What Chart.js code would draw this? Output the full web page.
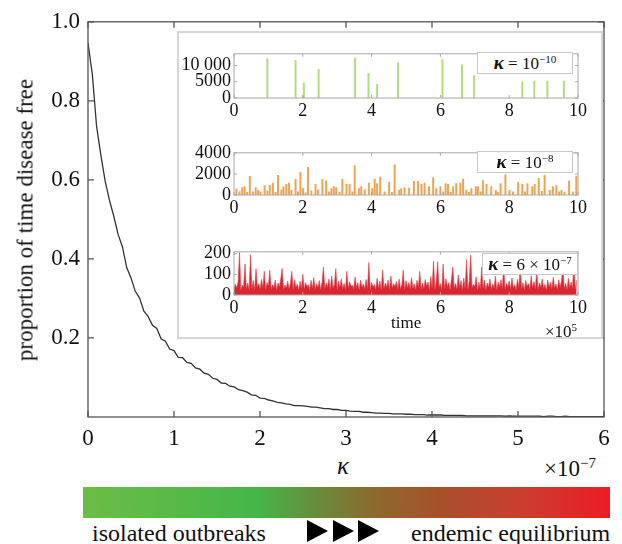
<!DOCTYPE html>
<html>
<head>
<meta charset="utf-8">
<script src="https://cdn.jsdelivr.net/npm/chart.js@4.4.1/dist/chart.umd.min.js"></script>
<style>
body { margin:0; background:#fff; width:622px; height:544px; position:relative; overflow:hidden; font-family:'Liberation Serif', serif; color:#111; }
canvas { position:absolute; }
.t { position:absolute; white-space:nowrap; line-height:1; }
.inset { position:absolute; left:177px; top:31px; width:426px; height:308px; box-sizing:border-box; border:2px solid #d6d6d6; background:#fff; }
.leg { position:absolute; box-sizing:border-box; border:1px solid #c8c8c8; background:#fff; font-size:17px; text-align:center; line-height:20px; }
.leg i { font-weight:bold; font-size:19px; }
sup { font-size:0.65em; vertical-align:0.55em; line-height:0; }
.bar { position:absolute; left:83px; top:487px; width:527px; height:31px;
  background:linear-gradient(to right, #6cbd45 0%, #45b649 33%, #6a8a3c 45%, #8c6a2e 55%, #a8502b 68%, #c8402e 82%, #ed1c24 100%); }
.tri { position:absolute; top:520px; width:0; height:0; border-left:21px solid #000; border-top:11.5px solid transparent; border-bottom:11.5px solid transparent; }
</style>
</head>
<body>
<canvas id="main" width="622" height="450" style="left:0;top:0"></canvas>
<div class="inset"></div>
<canvas id="c1" width="418" height="82" style="left:180px;top:40px"></canvas>
<canvas id="c2" width="418" height="82" style="left:180px;top:139px"></canvas>
<canvas id="c3" width="418" height="82" style="left:180px;top:238px"></canvas>

<div class="leg" style="left:477px;top:52px;width:96px;height:22px"><i>κ</i> = 10<sup>−10</sup></div>
<div class="leg" style="left:477px;top:151px;width:96px;height:22px"><i>κ</i> = 10<sup>−8</sup></div>
<div class="leg" style="left:482px;top:253px;width:96px;height:22px"><i>κ</i> = 6 × 10<sup>−7</sup></div>

<div class="t" style="left:391px;top:314px;font-size:17px">time</div>
<div class="t" style="left:545px;top:323px;font-size:17px">×10<sup>5</sup></div>

<div class="t" style="left:25px;top:220px;font-size:23px;transform:translate(-50%,-50%) rotate(-90deg)">proportion of time disease free</div>
<div class="t" style="left:337px;top:453px;font-size:25px;font-style:italic">κ</div>
<div class="t" style="left:544px;top:457px;font-size:23px">×10<sup>−7</sup></div>

<div class="bar"></div>
<div class="t" style="left:92px;top:521px;font-size:24px">isolated outbreaks</div>
<div class="tri" style="left:307px"></div>
<div class="tri" style="left:333px"></div>
<div class="tri" style="left:358px"></div>
<div class="t" style="left:411px;top:521px;font-size:24px">endemic equilibrium</div>

<script>
// main curve: proportion of time disease free vs kappa (x1e-7), step 0.05
const kappaStep = 0.05;
const freeProp = [
  0.946, 0.868, 0.735, 0.662, 0.596, 0.548, 0.508, 0.462, 0.431, 0.378,
  0.352, 0.318, 0.301, 0.268, 0.254, 0.232, 0.224, 0.198, 0.192, 0.172,
  0.168, 0.151, 0.150, 0.138, 0.136, 0.124, 0.121, 0.111, 0.108, 0.098,
  0.095, 0.086, 0.085, 0.078, 0.076, 0.069, 0.067, 0.063, 0.056, 0.055,
  0.048, 0.047, 0.043, 0.041, 0.037, 0.036, 0.033, 0.032, 0.029, 0.029,
  0.028, 0.027, 0.025, 0.025, 0.023, 0.021, 0.021, 0.019, 0.019, 0.017,
  0.017, 0.015, 0.014, 0.014, 0.012, 0.012, 0.011, 0.010, 0.010, 0.009,
  0.009, 0.008, 0.008, 0.008, 0.007, 0.007, 0.006, 0.006, 0.006, 0.005,
  0.005, 0.005, 0.005, 0.004, 0.004, 0.004, 0.004, 0.004, 0.003, 0.003,
  0.003, 0.003, 0.003, 0.003, 0.003, 0.003, 0.003, 0.002, 0.003, 0.002,
  0.002, 0.002, 0.002, 0.002, 0.002, 0.002, 0.001, 0.002, 0.002, 0.001,
  0.001, 0.002, 0.001, 0.001, 0.001, 0.001, 0.001, 0.001, 0.001, 0.001,
  0.001
];
const mainXTicks = [0, 1, 2, 3, 4, 5, 6];
const mainYTicks = [0.2, 0.4, 0.6, 0.8, 1.0];

// inset 1: kappa = 1e-10, time in units of 1e5
const greenTime = [0.97, 1.79, 2.0, 2.03, 2.46, 3.52, 3.91, 4.16, 4.77, 6.06, 6.63, 6.98, 8.38, 8.73, 9.11, 9.59];
const greenCases = [12100, 11600, 700, 4700, 8800, 12300, 7600, 4200, 10900, 11800, 10200, 6900, 5000, 5200, 5200, 5200];

// inset 2: kappa = 1e-8
const orangeTime = [
  0.07, 0.16, 0.24, 0.31, 0.38, 0.46, 0.55, 0.63, 0.70, 0.77, 0.89, 0.97, 1.04, 1.13, 1.21, 1.28,
  1.38, 1.44, 1.52, 1.60, 1.67, 1.79, 1.86, 1.93, 2.01, 2.08, 2.15, 2.25, 2.37, 2.44, 2.57, 2.68,
  2.76, 2.83, 2.90, 2.97, 3.07, 3.15, 3.27, 3.36, 3.44, 3.51, 3.63, 3.70, 3.80, 3.92, 4.02, 4.09,
  4.16, 4.25, 4.38, 4.51, 4.59, 4.67, 4.80, 4.86, 4.96, 5.09, 5.23, 5.35, 5.45, 5.54, 5.67, 5.79,
  5.88, 6.00, 6.08, 6.15, 6.22, 6.30, 6.37, 6.46, 6.58, 6.66, 6.75, 6.83, 6.90, 7.03, 7.09, 7.17,
  7.24, 7.34, 7.48, 7.61, 7.67, 7.75, 7.89, 8.01, 8.11, 8.26, 8.38, 8.46, 8.53, 8.67, 8.74, 8.86,
  8.95, 9.03, 9.18, 9.27, 9.37, 9.45, 9.52, 9.61, 9.74, 9.85, 9.95
];
const orangeCases = [
  570, 300, 700, 800, 250, 1770, 300, 700, 450, 300, 900, 400, 940, 1140, 250, 1860,
  500, 800, 1000, 1140, 450, 1490, 300, 2140, 600, 200, 2630, 400, 1000, 500, 1490, 1340,
  300, 600, 800, 700, 250, 1490, 1000, 1000, 300, 2770, 600, 800, 500, 1140, 600, 1490,
  1090, 1710, 300, 1200, 250, 2860, 450, 600, 700, 650, 1290, 1290, 1000, 1140, 800, 1660,
  600, 800, 300, 1090, 1000, 250, 800, 1090, 1140, 1510, 450, 250, 600, 800, 800, 300,
  1370, 1000, 800, 450, 250, 1090, 1940, 450, 300, 1200, 1000, 300, 1090, 800, 1000, 1570,
  350, 1860, 450, 800, 900, 300, 450, 250, 1310, 300, 1800
];

// inset 3: kappa = 6e-7, sampled every 0.04 (x1e5)
const redStep = 0.04;
const redCases = [
  28, 52, 35, 64, 205, 24, 47, 40, 150, 30,
  58, 26, 195, 32, 70, 23, 128, 38, 55, 29,
  76, 34, 115, 25, 61, 42, 120, 28, 50, 36,
  72, 24, 58, 39, 80, 128, 27, 48, 33, 68,
  30, 56, 115, 26, 74, 37, 53, 23, 66, 32,
  100, 29, 60, 41, 49, 25, 71, 34, 84, 28,
  55, 38, 70, 24, 63, 135, 31, 58, 40, 77,
  27, 92, 35, 51, 128, 23, 66, 39, 79, 30,
  56, 26, 115, 33, 64, 42, 47, 28, 88, 36,
  60, 24, 72, 38, 53, 29, 75, 32, 157, 25,
  61, 40, 50, 27, 81, 35, 68, 23, 120, 31,
  58, 37, 73, 26, 92, 34, 55, 41, 65, 28,
  77, 30, 51, 120, 24, 70, 36, 60, 29, 84,
  33, 53, 25, 71, 39, 115, 27, 58, 32, 75,
  42, 63, 23, 89, 35, 164, 28, 67, 161, 38,
  55, 26, 150, 31, 79, 40, 60, 24, 73, 135,
  34, 56, 29, 97, 37, 70, 25, 82, 32, 171,
  27, 65, 193, 36, 51, 41, 88, 23, 62, 30,
  135, 33, 72, 26, 58, 39, 77, 28, 53, 35,
  91, 24, 63, 38, 74, 31, 142, 27, 56, 40,
  68, 29, 82, 34, 49, 25, 76, 37, 135, 32,
  60, 23, 70, 41, 55, 28, 93, 36, 65, 30,
  120, 26, 58, 39, 78, 33, 51, 24, 72, 38,
  62, 29, 85, 35, 53, 27, 74, 40, 67, 142,
  31, 56, 25, 80, 37, 63, 32, 157, 28, 71
];
const insetXTicks = [0, 2, 4, 6, 8, 10];

// box round the plot area with inward tick marks (matlab look)
const framePlugin = {
  id: 'frame',
  afterDraw(chart, args, o) {
    const { ctx, chartArea: a, scales } = chart;
    ctx.save();
    ctx.strokeStyle = o.color;
    ctx.lineWidth = o.width;
    ctx.strokeRect(a.left, a.top, a.right - a.left, a.bottom - a.top);
    ctx.beginPath();
    scales.x.ticks.forEach((t, i) => {
      const p = scales.x.getPixelForTick(i);
      ctx.moveTo(p, a.bottom); ctx.lineTo(p, a.bottom - o.len);
      ctx.moveTo(p, a.top); ctx.lineTo(p, a.top + o.len);
    });
    scales.y.ticks.forEach((t, i) => {
      const p = scales.y.getPixelForTick(i);
      ctx.moveTo(a.left, p); ctx.lineTo(a.left + o.len, p);
      ctx.moveTo(a.right, p); ctx.lineTo(a.right - o.len, p);
    });
    ctx.stroke();
    ctx.restore();
  }
};
Chart.register(framePlugin);

const serif = "'Liberation Serif', serif";

new Chart(document.getElementById('main'), {
  type: 'line',
  data: {
    datasets: [{
      data: freeProp.map((v, i) => ({ x: i * kappaStep, y: v })),
      borderColor: '#333',
      borderWidth: 1.3,
      pointRadius: 0,
      tension: 0
    }]
  },
  options: {
    responsive: false,
    animation: false,
    events: [],
    layout: { padding: { left: 0, right: 18, top: 16, bottom: 0 } },
    plugins: {
      legend: { display: false },
      tooltip: { enabled: false },
      frame: { color: '#555', width: 1.3, len: 6 }
    },
    scales: {
      x: {
        type: 'linear', min: 0, max: 6,
        afterBuildTicks: s => { s.ticks = mainXTicks.map(v => ({ value: v })); },
        ticks: { font: { family: serif, size: 23 }, color: '#111', padding: 8, maxRotation: 0, autoSkip: false },
        grid: { display: false, drawTicks: false },
        border: { display: false },
        afterFit: s => { s.height = 33; }
      },
      y: {
        min: 0, max: 1,
        afterBuildTicks: s => { s.ticks = mainYTicks.map(v => ({ value: v })); },
        ticks: { font: { family: serif, size: 23 }, color: '#111', padding: 8, autoSkip: false, callback: v => v.toFixed(1) },
        grid: { display: false, drawTicks: false },
        border: { display: false },
        afterFit: s => { s.width = 88; }
      }
    }
  }
});

function inset(id, type, points, color, yMax, yTicks, xHeight, extra) {
  return new Chart(document.getElementById(id), {
    type: type,
    data: {
      datasets: [Object.assign({
        data: points,
        backgroundColor: color,
        borderColor: color,
        borderWidth: 0
      }, extra)]
    },
    options: {
      responsive: false,
      animation: false,
      events: [],
      layout: { padding: { left: 0, right: 20, top: 9, bottom: 0 } },
      plugins: {
        legend: { display: false },
        tooltip: { enabled: false },
        frame: { color: '#a8a8a8', width: 1, len: 3 }
      },
      scales: {
        x: {
          type: 'linear', min: 0, max: 10, offset: false,
          afterBuildTicks: s => { s.ticks = insetXTicks.map(v => ({ value: v })); },
          ticks: { font: { family: serif, size: 18 }, color: '#111', padding: 2, maxRotation: 0, autoSkip: false },
          grid: { display: false, drawTicks: false, offset: false },
          border: { display: false },
          afterFit: s => { s.height = xHeight; }
        },
        y: {
          min: 0, max: yMax,
          afterBuildTicks: s => { s.ticks = yTicks.map(v => ({ value: v })); },
          ticks: { font: { family: serif, size: 18 }, color: '#111', padding: 3, autoSkip: false,
                   callback: v => v >= 10000 ? '10 000' : String(v) },
          grid: { display: false, drawTicks: false },
          border: { display: false },
          afterFit: s => { s.width = 54; }
        }
      }
    }
  });
}

inset('c1', 'bar', greenTime.map((t, i) => ({ x: t, y: greenCases[i] })), '#b0dc7c',
      13600, [0, 5000, 10000], 24, { barThickness: 1.3, grouped: false });
inset('c2', 'bar', orangeTime.map((t, i) => ({ x: t, y: orangeCases[i] })), '#f0a24f',
      4000, [0, 2000, 4000], 26, { barThickness: 1.3, grouped: false });
inset('c3', 'line', redCases.map((v, i) => ({ x: i * redStep, y: v })), 'rgba(230,60,70,0.75)',
      209, [0, 100, 200], 25, { borderWidth: 0.8, pointRadius: 0, tension: 0,
      fill: 'origin', backgroundColor: 'rgba(214,20,32,0.92)' });
</script>
</body>
</html>
